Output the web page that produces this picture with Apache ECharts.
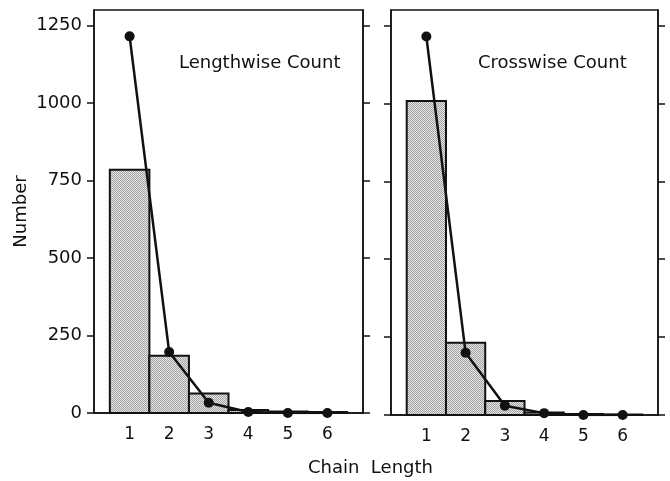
<!DOCTYPE html>
<html>
<head>
<meta charset="utf-8">
<script src="https://cdn.jsdelivr.net/npm/echarts@6/dist/echarts.min.js"></script>
<style>html,body{margin:0;padding:0;background:#fff;}#c{width:670px;height:481px;}</style>
</head>
<body>
<div id="c"></div>
<script>
var chainLengths = [1, 2, 3, 4, 5, 6];
var lengthwiseBars = [785, 185, 63, 10, 5, 3];
var lengthwiseLine = [1215, 197, 33, 3, 0, 0];
var crosswiseBars = [1008, 232, 45, 8, 3, 2];
var crosswiseLine = [1215, 200, 30, 6, 0, 0];
var yTicks = [0, 250, 500, 750, 1000, 1250];
var panelTitles = ['Lengthwise Count', 'Crosswise Count'];
var xTitle = 'Chain  Length';
var yTitle = 'Number';

var FONT = 'DejaVu Sans';
var INK = '#111';

// stipple pattern for bars
var pc = document.createElement('canvas');
pc.width = 2; pc.height = 2;
var pctx = pc.getContext('2d');
pctx.fillStyle = '#e6e6e6'; pctx.fillRect(0, 0, 2, 2);
pctx.fillStyle = '#a2a2a2'; pctx.fillRect(0, 0, 1, 1); pctx.fillRect(1, 1, 1, 1);
var pattern = { image: pc, repeat: 'repeat' };

function pairs(vals) { return chainLengths.map(function (c, i) { return [c, vals[i]]; }); }

function renderBar(params, api) {
  var x = api.value(0), y = api.value(1);
  var p0 = api.coord([x - 0.5, y]);
  var p1 = api.coord([x + 0.5, 0]);
  return {
    type: 'rect',
    shape: { x: p0[0], y: p0[1], width: p1[0] - p0[0], height: p1[1] - p0[1] },
    style: { fill: pattern, stroke: INK, lineWidth: 2 }
  };
}

function xAxisCfg(gi) {
  return {
    type: 'value', gridIndex: gi, min: 0.1, max: 6.9,
    splitLine: { show: false },
    axisLine: { show: true, lineStyle: { color: INK, width: 1.5 } },
    axisTick: { show: false },
    axisLabel: { customValues: chainLengths, color: INK, fontFamily: FONT, fontSize: 17, margin: 13,
      formatter: function (v) { return String(v); } }
  };
}
function yAxisCfg(gi, pos, labels) {
  var c = {
    type: 'value', gridIndex: gi, position: pos, min: 0, max: 1300,
    splitLine: { show: false },
    axisLine: { show: true, onZero: false, lineStyle: { color: INK, width: 1.5 } },
    axisTick: { show: true, inside: false, length: 7, customValues: yTicks, lineStyle: { color: INK, width: 1.5 } },
    axisLabel: { show: labels, customValues: yTicks, color: INK, fontFamily: FONT, fontSize: 18, margin: 12,
      formatter: function (v) { return String(v); } }
  };
  if (labels) {
    c.name = yTitle; c.nameLocation = 'middle'; c.nameRotate = 90; c.nameGap = 64;
    c.nameTextStyle = { color: INK, fontFamily: FONT, fontSize: 18 };
  }
  return c;
}

var chart = echarts.init(document.getElementById('c'), null, { renderer: 'canvas' });
chart.setOption({
  animation: false,
  backgroundColor: '#fff',
  grid: [
    { left: 94, right: 307, top: 10, bottom: 68, show: true, borderColor: INK, borderWidth: 1.5, backgroundColor: 'transparent' },
    { left: 391, right: 12, top: 10, bottom: 66, show: true, borderColor: INK, borderWidth: 1.5, backgroundColor: 'transparent' }
  ],
  xAxis: [xAxisCfg(0), xAxisCfg(1)],
  yAxis: [yAxisCfg(0, 'left', true), yAxisCfg(0, 'right', false), yAxisCfg(1, 'left', false), yAxisCfg(1, 'right', false)],
  title: [
    { text: panelTitles[0], left: 174, top: 49, textStyle: { color: INK, fontFamily: FONT, fontSize: 18, fontWeight: 'normal' } },
    { text: panelTitles[1], left: 473, top: 49, textStyle: { color: INK, fontFamily: FONT, fontSize: 18, fontWeight: 'normal' } }
  ],
  graphic: [
    { type: 'text', left: 308, top: 459, style: { text: xTitle, fill: INK, font: '18px "DejaVu Sans"' } }
  ],
  series: [
    { type: 'custom', xAxisIndex: 0, yAxisIndex: 0, renderItem: renderBar, data: pairs(lengthwiseBars), z: 2 },
    { type: 'line', xAxisIndex: 0, yAxisIndex: 0, data: pairs(lengthwiseLine), symbol: 'circle', symbolSize: 10,
      lineStyle: { color: INK, width: 2.5 }, itemStyle: { color: INK }, z: 3 },
    { type: 'custom', xAxisIndex: 1, yAxisIndex: 2, renderItem: renderBar, data: pairs(crosswiseBars), z: 2 },
    { type: 'line', xAxisIndex: 1, yAxisIndex: 2, data: pairs(crosswiseLine), symbol: 'circle', symbolSize: 10,
      lineStyle: { color: INK, width: 2.5 }, itemStyle: { color: INK }, z: 3 }
  ]
});
</script>
</body>
</html>
